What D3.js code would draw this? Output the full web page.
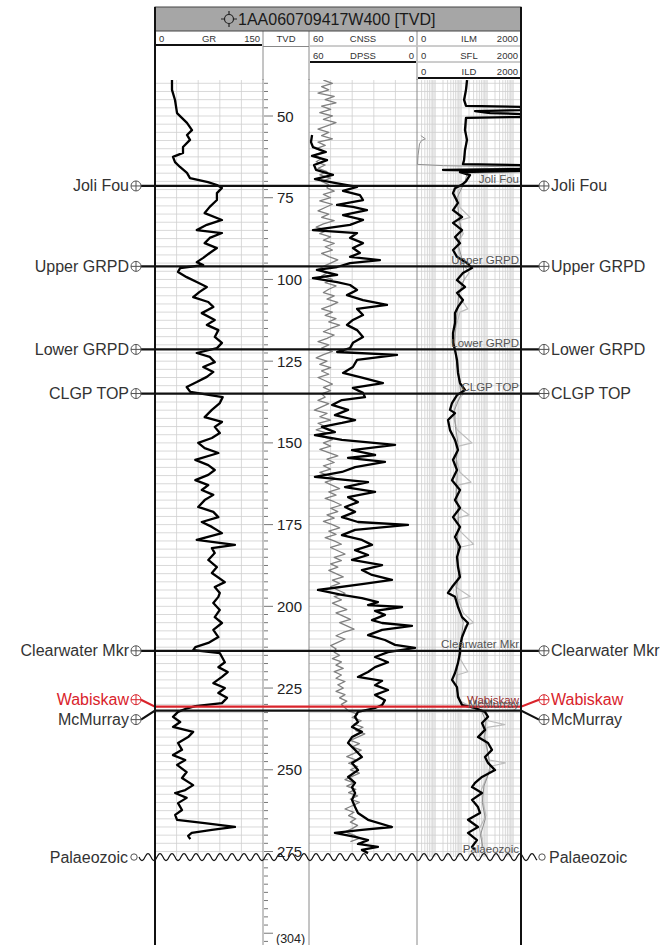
<!DOCTYPE html>
<html>
<head>
<meta charset="utf-8">
<script src="https://cdn.jsdelivr.net/npm/d3@7"></script>
<style>
  body { margin: 0; background: #fff; }
  svg { display: block; font-family: "Liberation Sans", Arial, Helvetica, sans-serif; }
</style>
</head>
<body>
<svg id="chart" width="662" height="945"></svg>
<script>
// ---- DATA (depth in m TVD, value in curve units) ----
const wellName = "1AA060709417W400 [TVD]";

const grLog = [[39,23.6],[42,23.6],[45.1,27.8],[49.1,30.6],[52.1,44.4],[54.3,51.4],[55.8,44.4],[57.3,48.6],[59.5,38.9],[61.3,38.9],
  [62.5,25],[64.1,27.8],[65.6,34.7],[67.4,44.4],[69,48.6],[70.2,73.6],[71.1,86.1],[72,93],[73.6,86],[75.7,86],[77.8,76],[79.7,69],
  [81.8,93],[83.3,72],[84.9,58],[85.8,93],[87.3,76],[88.9,69],[90.4,86],[91.9,76],[93.4,67],[94.7,58],[95.6,67],[96.5,35],[97.7,32],
  [99.3,44],[100.8,58],[102.3,72],[103.8,62],[105.4,53],[106.9,74],[108.4,81],[110.3,65],[112.4,83],[113.9,72],[115.5,88],[117.6,83],
  [119.4,93],[121,86],[122.5,58],[123.7,76],[125.3,83],[126.8,67],[128.3,81],[129.8,72],[131.4,58],[132.9,44],[134.4,49],[136,94],
  [137.8,90],[139.9,79],[142.1,69],[143.6,93],[145.1,83],[147,90],[148.5,79],[150,60],[151.6,69],[153.1,88],[155.2,56],[156.8,74],
  [158.3,83],[159.8,74],[161.4,56],[162.9,74],[164.4,65],[165.9,81],[167.5,69],[169.6,60],[171.1,81],[172.7,88],[174.2,65],[175.7,79],
  [177.6,93],[179.7,58],[181.2,111],[182.2,79],[183.7,83],[185.8,74],[188,86],[189.8,79],[192.6,97],[194.1,83],[195.9,90],[197.1,88],
  [199,81],[201.1,90],[203.3,83],[205.1,93],[207.2,81],[209.4,88],[211.2,74],[212.5,56],[213.4,53],[214.3,90],[215.5,93],[217.1,97],
  [218.6,88],[220.1,101],[221.6,93],[223.5,81],[225,97],[226.5,88],[228,100],[229.6,93],[230.5,56],[231.4,42],[232.3,32],[233.8,25],
  [235.4,35],[236.9,25],[238.4,53],[240,46],[241.8,32],[243.9,37.5],[245.5,25],[247,42],[248.5,30.6],[250.7,44],[252.5,37.5],[254.7,53],
  [256.2,42],[257.1,28],[258.6,44],[260.2,32],[262.3,37.5],[263.8,28],[265.3,30.6],[266.3,69],[267.5,111],[268.4,79],[269.3,51],
  [270.2,46],[271.2,49]];

const cnssLog = [[39,52],[40,47],[41,53],[42,49],[43,55],[44,46],[45,51],[46,45],[47,53],[48,48],[49,54],[50,47],[51,52],[52,45],
  [53,50],[54,55],[55,49],[56,53],[57,47],[58,55],[59,51],[60,56],[61,52],[62,57],[63,53],[64,56],[65,51],[66,55],[67,50],[68,54],
  [69,48],[70,53],[71,49],[72,50],[73,46],[74,52],[75,48],[76,54],[77,47],[78,51],[79,55],[80,49],[81,53],[82,46],[83,52],[84,56],
  [85,50],[86,54],[87,48],[88,52],[89,46],[90,51],[91,47],[92,53],[93,49],[94,44],[95,48],[96,52],[97,55],[98,50],[99,53],[100,47],
  [101,51],[102,45],[103,49],[104,52],[105,46],[106,50],[107,44],[108,48],[109,53],[110,47],[111,51],[112,45],[113,49],[114,43],
  [115,48],[116,52],[117,46],[118,50],[119,55],[120,49],[121,53],[122,47],[123,52],[124,56],[125,50],[126,54],[127,48],[128,53],
  [129,49],[130,55],[131,51],[132,47],[133,52],[134,48],[135,53],[136,51],[137,55],[138,49],[139,53],[140,57],[141,50],[142,54],
  [143,48],[144,55],[145,51],[146,56],[147,50],[148,53],[149,47],[150,52],[151,48],[152,54],[153,49],[154,44],[155,50],[156,46],
  [157,52],[158,48],[159,54],[160,49],[161,45],[162,51],[163,47],[164,43],[165,49],[166,45],[167,51],[168,46],[169,42],[170,48],
  [171,44],[172,50],[173,46],[174,52],[175,47],[176,43],[177,49],[178,45],[179,51],[180,46],[181,42],[182,48],[183,44],[184,40],
  [185,46],[186,42],[187,48],[188,44],[189,49],[190,45],[191,41],[192,47],[193,43],[194,48],[195,44],[196,40],[197,46],[198,42],
  [199,47],[200,43],[201,39],[202,45],[203,41],[204,37],[205,43],[206,39],[207,35],[208,41],[209,45],[210,40],[211,44],[212,48],
  [213,45],[214,46],[215,43],[216,47],[217,42],[218,45],[219,41],[220,46],[221,42],[222,45],[223,40],[224,44],[225,41],[226,45],
  [227,40],[228,43],[229,39],[230,42],[231,40],[232,38],[233,33],[234,36],[235,31],[236,35],[237,30],[238,34],[239,29],[240,33],
  [241,37],[242,32],[243,36],[244,31],[245,35],[246,39],[247,34],[248,38],[249,33],[250,37],[251,32],[252,36],[253,40],[254,35],
  [255,39],[256,34],[257,38],[258,33],[259,37],[260,32],[261,36],[262,40],[263,35],[264,38],[265,34],[266,37],[267,33],[268,36],
  [269,40],[270,35],[271,32],[272,37]];

const dpssLog = [[55.8,58.3],[58,58.9],[59.5,57.8],[61,50.6],[62.2,58.3],[63.5,50],[65,57.2],[66.5,56.1],[68,46.7],[69.3,56.7],
  [70.5,45],[71.7,33.3],[72.9,41.1],[74.2,31.7],[75.7,30],[77.2,44.4],[77.8,35.6],[78.8,27.8],[80.3,41.1],[81.8,30],[83.3,37.2],
  [84.9,57.8],[85.8,33.3],[87.3,37.2],[88.9,30],[90.4,35.6],[91.9,31.7],[93.1,37.2],[94.1,20.6],[95,37.2],[96.2,44.4],[97.1,55.6],
  [98.6,44.4],[99.6,57.8],[100.8,44.4],[101.7,37.2],[103.2,33.3],[104.8,38.9],[106.3,30],[107.8,16.7],[109,33.3],[110.9,30],
  [112.4,35.6],[113.9,38.9],[115.5,33.3],[117.6,30],[119.4,35.6],[121,37.2],[122.2,44.4],[123.1,11.1],[124.6,33.3],[126.8,35.6],
  [128.6,41.1],[130.1,30],[131.7,18.9],[133.2,35.6],[134.7,30],[136,28.9],[136.9,41.7],[138.4,47.2],[139.9,38.3],[141.5,45.6],
  [143,34.4],[143.9,41.7],[145.1,52.8],[146.7,45.6],[147.6,56.7],[149.1,41.7],[150.6,12.2],[152.2,36.1],[153.7,23.3],[154.6,38.3],
  [155.8,17.8],[157.4,34.4],[158.9,41.7],[160.4,56.7],[162,27.2],[163.5,40],[165,23.3],[166.6,38.3],[168.1,32.8],[169.6,40],
  [171.1,34.4],[172.7,41.7],[174.2,32.8],[175.1,5],[176.6,34.4],[178.2,41.7],[179.7,30.6],[181.2,25],[182.8,34.4],[184.3,27.2],
  [185.8,36.1],[187.4,19.4],[188.9,30.6],[190.4,25],[191.9,13.9],[193.2,30.6],[195,55],[196.5,41.7],[197.5,30.6],[198.7,21.7],
  [199.6,27.2],[200.2,8.3],[201.4,23.3],[202.6,17.8],[204.2,25],[205.1,19.4],[206,2.8],[207.2,19.4],[208.8,27.2],[210.3,17.8],
  [211.8,12.2],[212.7,1.1],[214,16.1],[215.5,23.3],[217.1,16.1],[218.6,23.3],[220.1,27.2],[221.6,32.8],[222.8,19.4],[224.1,23.3],
  [225.6,16.1],[227.1,23.3],[228.7,17.8],[230.2,19.4],[231.1,23.3],[232.3,32.8],[233.8,34.4],[235.4,32.8],[236.9,36.1],[238.4,30.6],
  [240,36.1],[241.8,38.3],[243.9,34.4],[246.1,30.6],[247.9,36.1],[250.1,32.8],[252.2,38.3],[254,34.4],[255.3,36.1],[257.1,34.4],
  [259.2,36.1],[261.4,34.4],[263.2,32.8],[265.3,27.2],[267.5,13.9],[268.4,30.6],[269.3,45.6],[270.5,34.4],[271.5,27.2],[272.7,32.8],
  [273.6,21.7],[274.5,30.6],[275.5,27.2]];

const ildLog = [[39,16.8],[42,15.3],[45.1,12.9],[46.9,15.3],[47.2,2000],[48.2,2000],[48.5,34],[49.1,129],[49.4,2000],[50.3,2000],
  [50.6,15.3],[54.3,14],[57.3,16.8],[60.4,14],[63.5,12.9],[64.7,11.7],[65,2000],[65.9,2000],[66.2,2000],[66.5,2],[66.8,2000],
  [67.2,9],[68.1,21.8],[69,18.3],[70,15.3],[71,10.8],[72.1,5.8],[73.6,4.85],[76.6,7.55],[78.8,4.85],[80.9,10.8],[82.7,4.85],
  [84.9,10.8],[87,5.79],[88.9,9.01],[91,4.85],[93.1,6.91],[95,16.8],[96.5,26.1],[98,11.7],[100.2,6.91],[102.3,14],[104.1,6.91],
  [106.3,11.7],[108.4,7.55],[110.3,5.79],[113.3,5.79],[116.4,4.85],[119.4,4.85],[121.6,5.79],[124.6,6.91],[128.6,7.55],[131.7,9.01],
  [133.8,14],[135.4,6.91],[137.8,4.44],[139.9,3.72],[140.9,5.79],[143,3.11],[146.1,3.72],[149.1,5.79],[152.2,7.55],[155.2,4.85],
  [158.3,6.91],[161.4,4.44],[164.4,9.01],[167.5,5.79],[169.9,9.01],[172.7,4.85],[175.7,9.01],[178.8,5.79],[181.8,9.01],[184.9,6.91],
  [188,7.55],[191,9.01],[194.1,4.44],[195.9,3.11],[197.1,5.79],[200.2,7.55],[203.3,10.8],[205.1,18.3],[207.2,14],[209.4,10.8],
  [212.4,9.01],[214.3,9.01],[217.3,7.55],[220.4,5.79],[222.5,4.44],[224.7,6.91],[227.7,7.55],[230.2,10.8],[231.1,34],[232.3,82.5],
  [233.8,108],[235.7,63.2],[237.8,82.5],[240,44.4],[241.8,108],[243.9,153],[246.1,82.5],[247.9,108],[250.1,200],[252.2,63.2],
  [254,34],[255.3,26.1],[257.1,63.2],[259.2,26.1],[261.4,44.4],[263.2,53],[265.3,18.3],[267.5,44.4],[269.3,18.3],[271.5,40.6],
  [273.6,26.1],[274.5,34]];

const ilmLog = [[39,18],[45,14],[47,16],[47.3,2000],[48.1,2000],[48.6,40],[49.2,2000],[50.2,2000],[50.7,17],[55,15],[60,15],
  [64.6,13],[65.1,2000],[66.5,2000],[66.8,2.2],[67.2,2000],[67.6,20],[70,16],[73,7.5],[78,9],[81,22],[82,8],[86,12],[89,7],[93,9],
  [96,14],[98,20],[101,11],[105,8],[109,18],[110,9],[114,6.5],[119,5.5],[122,6],[126,7.5],[131,9],[135,12],[138,6],[142,5],[146,7],
  [150,26],[151,8],[155,6.5],[159,9],[162,24],[163,7],[167,6],[170,9],[172,20],[173,7],[177,9],[181,30],[182,8],[186,7],[190,10],
  [194,6],[197,22],[198,8],[202,12],[205,30],[206,14],[210,11],[213,10],[216,9],[220,18],[221,7],[225,6.5],[229,9],[231,30],
  [233,90],[235,110],[236.2,480],[237,100],[240,75],[244,100],[247,120],[247.9,500],[249,130],[252,100],[256,60],[260,70],
  [264,90],[268,50],[271,65],[274,60]];

const sflLog = [[56,0.28],[57,0.42],[57.5,0.3],[58.5,0.25],[62,0.22],[64.8,0.21],[65.2,2.1],[65.6,2000],[66.1,2000],[66.4,3],
  [67,18],[70,14],[75,7],[80,8],[85,10],[90,8],[95,12],[100,13],[105,8],[110,7],[115,6],[120,5.5],[125,6.5],[130,8],[135,10],
  [140,5.5],[145,6],[150,7.5],[155,6.5],[160,7],[165,6.5],[170,7.5],[175,8],[180,7],[185,7.5],[190,8],[195,6.5],[200,8],[205,12],
  [210,10],[215,8],[220,7],[225,6.5],[230,10],[232,60],[235,90],[240,80],[245,110],[250,130],[255,75],[260,65],[265,85],[270,55],
  [274,70]];

const topNames  = ["Joli Fou", "Upper GRPD", "Lower GRPD", "CLGP TOP", "Clearwater Mkr", "Wabiskaw", "McMurray"];
const topDepths = [71.4, 96.0, 121.4, 134.9, 213.6, 230.7, 231.9];
const unconformityName = "Palaeozoic";
const unconformityDepth = 276.7;
const totalDepthLabel = "(304)";

const depthTicks = [50, 75, 100, 125, 150, 175, 200, 225, 250, 275];

// ---- LAYOUT ----
const svg = d3.select("#chart");
const trk = { gr: [155, 263], tvd: [263, 309], neu: [309, 417], res: [417, 521] };
const gridTop = 39, gridBot = unconformityDepth;

const y = d3.scaleLinear().domain([50, 275]).range([116, 851.5]);
const xGR = d3.scaleLinear().domain([0, 150]).range(trk.gr);
const xNeu = d3.scaleLinear().domain([60, 0]).range(trk.neu);
const xRes = d3.scaleLog().domain([0.2, 2000]).range(trk.res);

const defs = svg.append("defs");
for (const k of ["gr", "neu", "res"]) {
  defs.append("clipPath").attr("id", "clip-" + k)
    .append("rect")
    .attr("x", trk[k][0]).attr("y", y(gridTop))
    .attr("width", trk[k][1] - trk[k][0]).attr("height", y(gridBot) - y(gridTop));
}

// grid
const grid = svg.append("g").attr("stroke", "#cfcfcf").attr("stroke-width", 0.8);
const hLines = d3.range(40, gridBot, 2.5);
for (const k of ["gr", "neu", "res"]) {
  grid.selectAll(null).data(hLines).enter().append("line")
    .attr("x1", trk[k][0]).attr("x2", trk[k][1])
    .attr("y1", d => y(d)).attr("y2", d => y(d));
}
grid.selectAll(null).data([30, 60, 90, 120]).enter().append("line")
  .attr("x1", d => xGR(d)).attr("x2", d => xGR(d))
  .attr("y1", y(gridTop)).attr("y2", y(gridBot));
grid.selectAll(null).data([48, 36, 24, 12]).enter().append("line")
  .attr("x1", d => xNeu(d)).attr("x2", d => xNeu(d))
  .attr("y1", y(gridTop)).attr("y2", y(gridBot));
grid.selectAll(null).data(xRes.ticks().filter(v => v > 0.2 && v < 2000)).enter().append("line")
  .attr("x1", d => xRes(d)).attr("x2", d => xRes(d))
  .attr("y1", y(gridTop)).attr("y2", y(gridBot));

// curves
function curve(data, xs, clip, color, width) {
  svg.append("path")
    .datum(data)
    .attr("clip-path", "url(#clip-" + clip + ")")
    .attr("fill", "none")
    .attr("stroke", color)
    .attr("stroke-width", width)
    .attr("stroke-linejoin", "round")
    .attr("d", d3.line().x(d => xs(d[1])).y(d => y(d[0])));
}
curve(grLog, xGR, "gr", "#000", 2.3);
curve(cnssLog, xNeu, "neu", "#808080", 1.3);
curve(dpssLog, xNeu, "neu", "#000", 2.3);
curve(ilmLog, xRes, "res", "#bdbdbd", 1.2);
curve(sflLog, xRes, "res", "#909090", 1);
curve(ildLog, xRes, "res", "#000", 2.3);

// track separators and box
const sep = svg.append("g").attr("stroke", "#8a8a8a").attr("stroke-width", 1);
[263, 309, 417].forEach(x => sep.append("line").attr("x1", x).attr("x2", x).attr("y1", 31).attr("y2", 945));

// TVD ticks
const tvd = svg.append("g").attr("stroke", "#777").attr("stroke-width", 1);
tvd.selectAll(null).data(d3.range(30, 303, 2.5)).enter().append("line")
  .attr("x1", 264).attr("x2", d => d % 25 === 0 ? 273 : 268)
  .attr("y1", d => y(d)).attr("y2", d => y(d));
svg.append("g").selectAll(null).data(depthTicks).enter().append("text")
  .attr("x", 277).attr("y", d => y(d) + 5.5)
  .attr("font-size", 15).attr("fill", "#222")
  .text(d => d);
svg.append("text").attr("x", 276).attr("y", 943)
  .attr("font-size", 12.5).attr("fill", "#222").text(totalDepthLabel);

// tops
const symL = 136, symR = 544;
const labelShift = { "Wabiskaw": -7, "McMurray": 9 };
function circlePlus(g, cx, cy, color) {
  g.append("circle").attr("cx", cx).attr("cy", cy).attr("r", 5)
    .attr("fill", "#fff").attr("stroke", color).attr("stroke-width", 1);
  g.append("path").attr("d", `M${cx - 5},${cy}H${cx + 5}M${cx},${cy - 5}V${cy + 5}`)
    .attr("stroke", color).attr("stroke-width", 1);
}
topNames.forEach((name, i) => {
  const ly = y(topDepths[i]);
  const ty = ly + (labelShift[name] || 0);
  const red = name === "Wabiskaw";
  const lc = red ? "#d9232b" : "#111";
  const tc = red ? "#d9232b" : "#333";
  const g = svg.append("g");
  g.append("path")
    .attr("d", `M${symL + 5},${ty}L155,${ly}H521L${symR - 5},${ty}`)
    .attr("fill", "none").attr("stroke", lc).attr("stroke-width", 2.2);
  circlePlus(g, symL, ty, red ? "#d9232b" : "#555");
  circlePlus(g, symR, ty, red ? "#d9232b" : "#555");
  g.append("text").attr("x", symL - 7).attr("y", ty + 5.5).attr("text-anchor", "end")
    .attr("font-size", 16).attr("fill", tc).text(name);
  g.append("text").attr("x", symR + 7).attr("y", ty + 5.5)
    .attr("font-size", 16).attr("fill", tc).text(name);
  g.append("text").attr("x", 519).attr("y", ly - 2.5).attr("text-anchor", "end")
    .attr("font-size", 11.5).attr("fill", red ? "#9a3030" : "#555").text(name);
});

// unconformity
{
  const uy = y(unconformityDepth);
  const pts = d3.range(139, 538, 1).map(x => [x, uy + 3.5 * Math.sin((x - 139) / 12 * 2 * Math.PI)]);
  svg.append("path").attr("d", d3.line()(pts)).attr("fill", "none")
    .attr("stroke", "#111").attr("stroke-width", 1.2);
  [134, 542].forEach(cx => svg.append("circle").attr("cx", cx).attr("cy", uy).attr("r", 3.2)
    .attr("fill", "#fff").attr("stroke", "#555").attr("stroke-width", 1));
  svg.append("text").attr("x", 128).attr("y", uy + 5.5).attr("text-anchor", "end")
    .attr("font-size", 16).attr("fill", "#333").text(unconformityName);
  svg.append("text").attr("x", 549).attr("y", uy + 5.5)
    .attr("font-size", 16).attr("fill", "#333").text(unconformityName);
  svg.append("text").attr("x", 519).attr("y", uy - 4).attr("text-anchor", "end")
    .attr("font-size", 11.5).attr("fill", "#555").text(unconformityName);
}

// header
const hdr = svg.append("g");
hdr.append("rect").attr("x", 155).attr("y", 31).attr("width", 366).attr("height", 48).attr("fill", "#fff");
[263, 309, 417].forEach(x => hdr.append("line").attr("x1", x).attr("x2", x).attr("y1", 31).attr("y2", 80)
  .attr("stroke", "#8a8a8a"));
hdr.append("rect").attr("x", 155).attr("y", 7).attr("width", 366).attr("height", 24)
  .attr("fill", "#a6a6a6").attr("stroke", "#444").attr("stroke-width", 1);
{
  const cx = 229, cy = 19;
  hdr.append("circle").attr("cx", cx).attr("cy", cy).attr("r", 4.5)
    .attr("fill", "none").attr("stroke", "#222").attr("stroke-width", 1.2);
  hdr.append("path").attr("d", `M${cx - 8},${cy}H${cx - 4.5}M${cx + 4.5},${cy}H${cx + 8}M${cx},${cy - 8}V${cy - 4.5}M${cx},${cy + 4.5}V${cy + 8}`)
    .attr("stroke", "#222").attr("stroke-width", 1.2);
  hdr.append("text").attr("x", 238).attr("y", 25).attr("font-size", 16).attr("fill", "#1a1a1a").text(wellName);
}
function hRow(x0, x1, base, name, lo, hi, lineY, thick) {
  hdr.append("text").attr("x", x0 + 4).attr("y", base).attr("font-size", 9.5).attr("fill", "#333").text(lo);
  hdr.append("text").attr("x", (x0 + x1) / 2).attr("y", base).attr("text-anchor", "middle")
    .attr("font-size", 9.5).attr("fill", "#333").text(name);
  hdr.append("text").attr("x", x1 - 3).attr("y", base).attr("text-anchor", "end")
    .attr("font-size", 9.5).attr("fill", "#333").text(hi);
  hdr.append("line").attr("x1", x0 + 1).attr("x2", x1 - 1).attr("y1", lineY).attr("y2", lineY)
    .attr("stroke", thick ? "#111" : "#9a9a9a").attr("stroke-width", thick ? 2 : 1);
}
hRow(155, 263, 42, "GR", "0", "150", 45, true);
hdr.append("text").attr("x", 286).attr("y", 42).attr("text-anchor", "middle")
  .attr("font-size", 9.5).attr("fill", "#333").text("TVD");
hdr.append("line").attr("x1", 263).attr("x2", 309).attr("y1", 46.5).attr("y2", 46.5).attr("stroke", "#888");
hRow(309, 417, 42, "CNSS", "60", "0", 46, false);
hRow(309, 417, 58.5, "DPSS", "60", "0", 62, true);
hRow(417, 521, 42, "ILM", "0", "2000", 46, false);
hRow(417, 521, 58.5, "SFL", "0", "2000", 62, false);
hRow(417, 521, 74.5, "ILD", "0", "2000", 78, true);

// outer borders
[155, 521].forEach(x => svg.append("line").attr("x1", x).attr("x2", x).attr("y1", 7).attr("y2", 945)
  .attr("stroke", "#111").attr("stroke-width", 2));
</script>
</body>
</html>
